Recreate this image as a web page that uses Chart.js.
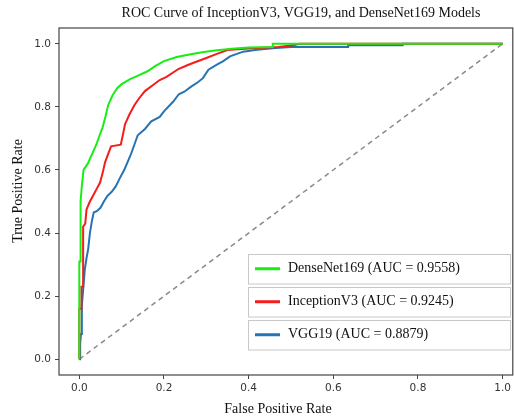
<!DOCTYPE html>
<html>
<head>
<meta charset="utf-8">
<script src="https://cdn.jsdelivr.net/npm/chart.js@4.4.1/dist/chart.umd.min.js"></script>
<style>
  html, body { margin: 0; padding: 0; background: #fff; }
  #wrap { width: 514px; height: 419px; }
</style>
</head>
<body>
<div id="wrap"><canvas id="rocChart" width="514" height="419"></canvas></div>
<script>
// ROC points
const denseFpr = [0, 0, 0.003, 0.003, 0.006, 0.01, 0.02, 0.03, 0.04, 0.048, 0.055, 0.062, 0.068, 0.078, 0.09, 0.1, 0.12, 0.14, 0.16, 0.18, 0.2, 0.23, 0.26, 0.29, 0.32, 0.36, 0.4, 0.457, 0.457, 1.0];
const denseTpr = [0, 0.31, 0.31, 0.5, 0.55, 0.6, 0.62, 0.65, 0.68, 0.71, 0.735, 0.77, 0.805, 0.835, 0.86, 0.872, 0.888, 0.9, 0.912, 0.93, 0.945, 0.958, 0.966, 0.973, 0.979, 0.984, 0.988, 0.99, 1.0, 1.0];

const inceptionFpr = [0, 0, 0.005, 0.005, 0.009, 0.009, 0.014, 0.017, 0.025, 0.033, 0.041, 0.049, 0.055, 0.061, 0.068, 0.075, 0.098, 0.108, 0.118, 0.13, 0.14, 0.155, 0.175, 0.19, 0.206, 0.234, 0.255, 0.27, 0.3, 0.325, 0.35, 0.4, 0.47, 0.505, 0.521, 1.0];
const inceptionTpr = [0, 0.16, 0.16, 0.23, 0.23, 0.42, 0.43, 0.475, 0.5, 0.52, 0.54, 0.56, 0.59, 0.625, 0.65, 0.675, 0.68, 0.745, 0.775, 0.805, 0.825, 0.85, 0.87, 0.885, 0.895, 0.92, 0.932, 0.94, 0.955, 0.968, 0.98, 0.985, 0.99, 0.995, 1.0, 1.0];

const vggFpr = [0, 0.002, 0.002, 0.004, 0.006, 0.009, 0.013, 0.017, 0.021, 0.025, 0.03, 0.034, 0.042, 0.05, 0.058, 0.066, 0.076, 0.086, 0.096, 0.106, 0.114, 0.122, 0.13, 0.138, 0.155, 0.17, 0.19, 0.2, 0.222, 0.235, 0.248, 0.265, 0.28, 0.292, 0.305, 0.325, 0.34, 0.356, 0.387, 0.42, 0.457, 0.5, 0.635, 0.635, 0.764, 0.764, 1.0];
const vggTpr = [0, 0, 0.05, 0.08, 0.17, 0.22, 0.285, 0.32, 0.35, 0.4, 0.44, 0.465, 0.47, 0.48, 0.5, 0.517, 0.53, 0.548, 0.575, 0.6, 0.625, 0.65, 0.68, 0.71, 0.73, 0.754, 0.768, 0.786, 0.817, 0.84, 0.848, 0.865, 0.878, 0.891, 0.918, 0.934, 0.945, 0.96, 0.975, 0.981, 0.986, 0.99, 0.99, 0.995, 0.995, 1.0, 1.0];

const chanceX = [0, 1];
const chanceY = [0, 1];

const modelNames = ['DenseNet169', 'InceptionV3', 'VGG19'];
const aucValues = ['0.9558', '0.9245', '0.8879'];
const xTicks = [0, 0.2, 0.4, 0.6, 0.8, 1.0];
const yTicks = [0, 0.2, 0.4, 0.6, 0.8, 1.0];

const chartTitle = 'ROC Curve of InceptionV3, VGG19, and DenseNet169 Models';
const xLabel = 'False Positive Rate';
const yLabel = 'True Positive Rate';

const serif = '"Liberation Serif", "Times New Roman", serif';

function toPoints(xs, ys) {
  return xs.map((x, i) => ({ x: x, y: ys[i] }));
}

// spines, titles and the boxed legend
const decorations = {
  id: 'decorations',
  afterDraw(chart) {
    const ctx = chart.ctx;
    const a = chart.chartArea;
    ctx.save();

    // frame
    ctx.strokeStyle = '#444';
    ctx.lineWidth = 1.2;
    ctx.strokeRect(a.left, a.top, a.right - a.left, a.bottom - a.top);

    // titles
    ctx.fillStyle = '#111';
    ctx.textAlign = 'center';
    ctx.textBaseline = 'middle';
    ctx.font = '14px ' + serif;
    ctx.fillText(chartTitle, 301, 13);
    ctx.font = '14px ' + serif;
    ctx.fillText(xLabel, 278, 409);
    ctx.save();
    ctx.translate(18, 191);
    ctx.rotate(-Math.PI / 2);
    ctx.fillText(yLabel, 0, 0);
    ctx.restore();

    // legend, one box per model
    const boxX = 248, boxW = 262, boxH = 29.5;
    const boxTops = [254, 287, 320];
    ctx.textAlign = 'left';
    ctx.font = '14px ' + serif;
    chart.data.datasets.slice(0, 3).forEach((ds, i) => {
      const top = boxTops[i];
      ctx.fillStyle = '#fff';
      ctx.fillRect(boxX, top, boxW, boxH);
      ctx.strokeStyle = '#c8c8c8';
      ctx.lineWidth = 1;
      ctx.strokeRect(boxX + 0.5, top + 0.5, boxW, boxH);
      const mid = top + boxH / 2;
      ctx.strokeStyle = ds.borderColor;
      ctx.lineWidth = 3;
      ctx.beginPath();
      ctx.moveTo(255, mid);
      ctx.lineTo(280, mid);
      ctx.stroke();
      ctx.fillStyle = '#111';
      ctx.fillText(ds.label, 288, mid);
    });
    ctx.restore();
  }
};

const ctx = document.getElementById('rocChart');
new Chart(ctx, {
  type: 'line',
  data: {
    datasets: [
      {
        label: modelNames[0] + ' (AUC = ' + aucValues[0] + ')',
        data: toPoints(denseFpr, denseTpr),
        borderColor: '#16ee16',
        borderWidth: 2,
        pointRadius: 0,
        fill: false,
        order: 1
      },
      {
        label: modelNames[1] + ' (AUC = ' + aucValues[1] + ')',
        data: toPoints(inceptionFpr, inceptionTpr),
        borderColor: '#f51c1c',
        borderWidth: 2,
        pointRadius: 0,
        fill: false,
        order: 2
      },
      {
        label: modelNames[2] + ' (AUC = ' + aucValues[2] + ')',
        data: toPoints(vggFpr, vggTpr),
        borderColor: '#2674b4',
        borderWidth: 2,
        pointRadius: 0,
        fill: false,
        order: 3
      },
      {
        label: 'chance',
        data: toPoints(chanceX, chanceY),
        borderColor: '#8a8a8a',
        borderWidth: 1.5,
        borderDash: [5, 4],
        pointRadius: 0,
        fill: false,
        order: 4
      }
    ]
  },
  options: {
    responsive: false,
    animation: false,
    devicePixelRatio: 1,
    layout: { padding: { top: 28, right: 1, left: 0, bottom: 0 } },
    plugins: {
      legend: { display: false },
      title: { display: false },
      tooltip: { enabled: false }
    },
    scales: {
      x: {
        type: 'linear',
        min: -0.048,
        max: 1.024,
        afterBuildTicks: (scale) => { scale.ticks = xTicks.map(v => ({ value: v })); },
        afterFit: (scale) => { scale.height = 44; },
        border: { display: false },
        grid: { drawOnChartArea: false, drawTicks: true, tickLength: 4, color: '#444' },
        ticks: {
          color: '#333',
          padding: 3,
          maxRotation: 0,
          font: { family: '"DejaVu Sans", sans-serif', size: 10.5 },
          callback: (v) => Number(v).toFixed(1)
        }
      },
      y: {
        type: 'linear',
        min: -0.05,
        max: 1.05,
        afterBuildTicks: (scale) => { scale.ticks = yTicks.map(v => ({ value: v })); },
        afterFit: (scale) => { scale.width = 59; },
        border: { display: false },
        grid: { drawOnChartArea: false, drawTicks: true, tickLength: 4, color: '#444' },
        ticks: {
          color: '#333',
          padding: 4,
          font: { family: '"DejaVu Sans", sans-serif', size: 10.5 },
          callback: (v) => Number(v).toFixed(1)
        }
      }
    }
  },
  plugins: [decorations]
});
</script>
</body>
</html>
